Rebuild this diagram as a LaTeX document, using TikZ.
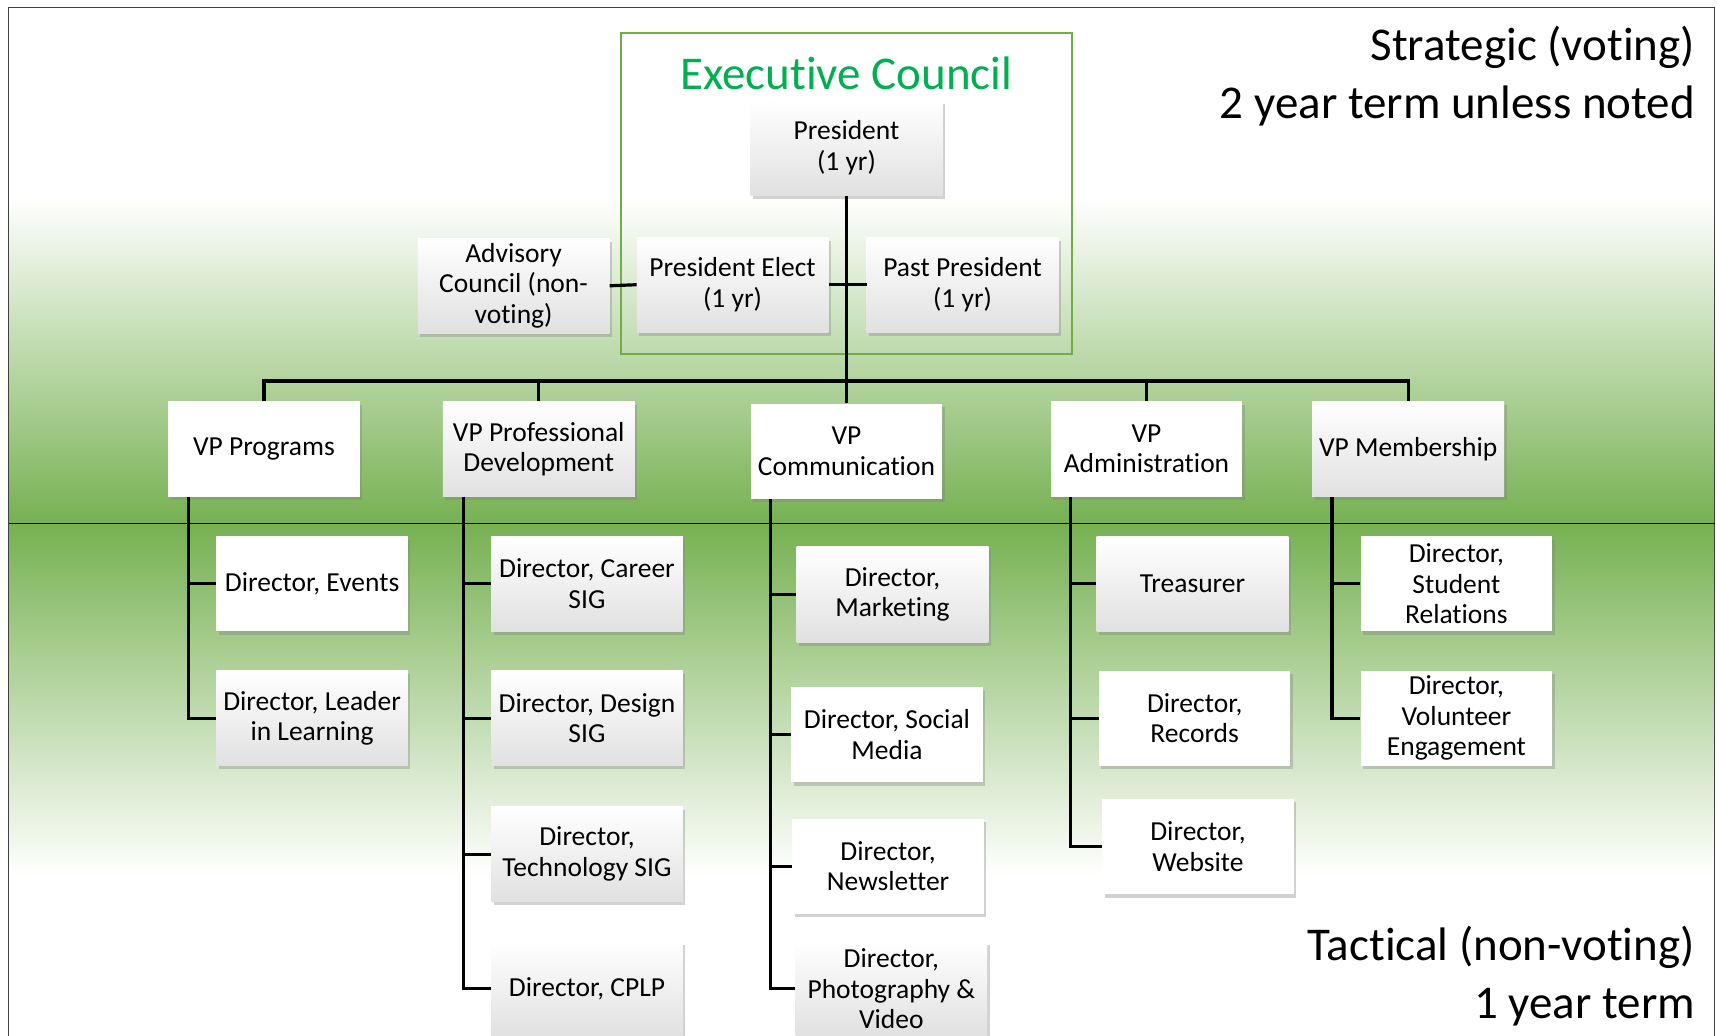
\documentclass[tikz,border=0pt]{standalone}
\usepackage{fontspec}
\setmainfont{Carlito}[Ligatures={NoCommon,NoContextual}]
\usetikzlibrary{shadows}
\definecolor{bandgreen}{RGB}{118,177,82}
\definecolor{ecframe}{RGB}{112,173,71}
\definecolor{ectext}{RGB}{0,176,80}

\begin{document}
\begin{tikzpicture}[x=1.095pt,y=-1.095pt]
\tikzstyle{every node}+=[inner sep=0pt]
\tikzstyle{rolebox}=[fill=white,minimum width=191.6pt,minimum height=95.3pt,align=center,font=\fontsize{27.5}{30.5}\selectfont,drop shadow={shadow xshift=2.5pt,shadow yshift=-3.5pt,opacity=0.35}]
\tikzstyle{rolegbox}=[rolebox,top color=white,middle color=white,bottom color=black!12]
\tikzstyle{orgline}=[line width=3.2pt]
\tikzstyle{sidenote}=[align=right,anchor=north east,font=\fontsize{47}{57.7}\selectfont]
\useasboundingbox (0,0) rectangle (1568,946);
\fill[white] (8,7) rectangle (1566,946);
\shade[top color=white,bottom color=bandgreen] (8,180) rectangle (1566,478);
\shade[top color=bandgreen,bottom color=white] (8,478) rectangle (1566,800);
\draw[black!75,line width=1.3pt] (8,946) -- (8,7) -- (1566,7) -- (1566,946);
\draw[line width=1.2pt] (8,478) -- (1566,478);
\draw[ecframe,line width=2.2pt] (567,30) rectangle (979,323);
\node[text=ectext,font=\fontsize{47}{57.7}\selectfont] (ectitle) at (773,67) {Executive Council};
\node[sidenote] (strategic) at (1548,24) {Strategic (voting)\\2 year term unless noted};
\node[sidenote] (tactical) at (1548,846) {Tactical (non-voting)\\1 year term};
\node[rolegbox] (pres) at (773,135) {President\\(1 yr)};
\node[rolegbox] (preselect) at (669,260) {President Elect\\(1 yr)};
\node[rolegbox] (pastpres) at (879,260) {Past President\\(1 yr)};
\node[rolegbox] (advisory) at (469,261) {Advisory\\Council (non-\\voting)};
\node[rolebox] (vpprog) at (241,410) {VP Programs};
\node[rolegbox] (vppd) at (492,410) {VP Professional\\Development};
\node[rolebox] (vpcomm) at (773,412) {VP\\Communication};
\node[rolebox] (vpadmin) at (1047,410) {VP\\Administration};
\node[rolegbox] (vpmem) at (1286,410) {VP Membership};
\node[rolebox] (devents) at (285,533) {Director, Events};
\node[rolegbox] (dleader) at (285,656) {Director, Leader\\in Learning};
\node[rolegbox] (dcareer) at (536,533) {Director, Career\\SIG};
\node[rolegbox] (ddesign) at (536,656) {Director, Design\\SIG};
\node[rolegbox] (dtech) at (536,780) {Director,\\Technology SIG};
\node[rolegbox] (dcplp) at (536,903) {Director, CPLP};
\node[rolegbox] (dmarket) at (815,543) {Director,\\Marketing};
\node[rolebox] (dsocial) at (810,671) {Director, Social\\Media};
\node[rolebox] (dnews) at (811,791) {Director,\\Newsletter};
\node[rolegbox] (dphoto) at (814,903) {Director,\\Photography \&\\Video};
\node[rolegbox] (dtreas) at (1089,533) {Treasurer};
\node[rolebox] (drecords) at (1091,656) {Director,\\Records};
\node[rolebox] (dweb) at (1094,773) {Director,\\Website};
\node[rolebox] (dstudent) at (1330,533) {Director,\\Student\\Relations};
\node[rolebox] (dvolunteer) at (1330,656) {Director,\\Volunteer\\Engagement};
\coordinate (bus) at (773,348);
\path (vpprog.south west) ++(19,0) coordinate (tprog);
\path (vppd.south west) ++(19,0) coordinate (tpd);
\path (vpcomm.south west) ++(18,0) coordinate (tcomm);
\path (vpadmin.south west) ++(18,0) coordinate (tadmin);
\path (vpmem.south west) ++(18,0) coordinate (tmem);
\draw[orgline] (pres.south) -- (bus);
\draw[orgline] (advisory.east) -- (preselect.west);
\draw[orgline] (preselect.east) -- (pastpres.west);
\draw[orgline] (vpprog.north) |- (bus) -| (vpmem.north);
\draw[orgline] (vppd.north) -- (vppd.north |- bus);
\draw[orgline] (vpcomm.north) -- (vpcomm.north |- bus);
\draw[orgline] (vpadmin.north) -- (vpadmin.north |- bus);
\draw[orgline] (tprog) |- (devents.west);
\draw[orgline] (tprog) |- (dleader.west);
\draw[orgline] (tpd) |- (dcareer.west);
\draw[orgline] (tpd) |- (ddesign.west);
\draw[orgline] (tpd) |- (dtech.west);
\draw[orgline] (tpd) |- (dcplp.west);
\draw[orgline] (tcomm) |- (dmarket.west);
\draw[orgline] (tcomm) |- (dsocial.west);
\draw[orgline] (tcomm) |- (dnews.west);
\draw[orgline] (tcomm) |- (dphoto.west);
\draw[orgline] (tadmin) |- (dtreas.west);
\draw[orgline] (tadmin) |- (drecords.west);
\draw[orgline] (tadmin) |- (dweb.west);
\draw[orgline] (tmem) |- (dstudent.west);
\draw[orgline] (tmem) |- (dvolunteer.west);
\end{tikzpicture}
\end{document}
